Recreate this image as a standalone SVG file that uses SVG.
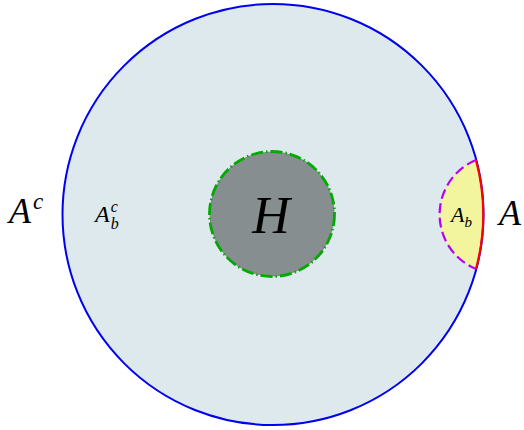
<svg xmlns="http://www.w3.org/2000/svg" width="524" height="430" viewBox="0 0 524 430">
<style>
.t{font-family:"Liberation Serif","DejaVu Serif",serif;font-style:italic;fill:#000}
</style>
<rect width="524" height="430" fill="#fff"/>
<g id="universe">
<circle cx="273" cy="214.5" r="210.5" fill="#dde9ec" stroke="none"/>
</g>
<g id="Ab">
<path d="M476,160 A59,59 0 0 0 476,269 A210.5,210.5 0 0 0 476,160 Z" fill="#f2f59d" stroke="none"/>
</g>
<g id="H">
<circle cx="272" cy="214" r="62.5" fill="#878e8f" stroke="#00aa00" stroke-width="2.8" stroke-dasharray="12 3 1.5 3"/>
<text class="t" x="271" y="233" font-size="52" text-anchor="middle">H</text>
</g>
<g id="connectors">
<circle cx="273" cy="214.5" r="210.5" fill="none" stroke="#0000ee" stroke-width="2"/>
<path d="M476,160 A210.5,210.5 0 0 1 476,269" fill="none" stroke="#ff0000" stroke-width="2.2"/>
<path d="M476,160 A59,59 0 0 0 476,269" fill="none" stroke="#bb00ee" stroke-width="2.2" stroke-dasharray="10 4.5"/>
</g>
<g id="labels">
<text class="t" x="9" y="223" font-size="36">A<tspan font-size="23" dx="2" dy="-14">c</tspan></text>
<text class="t" x="95" y="222" font-size="24">A<tspan font-size="16" dx="1" dy="-10">c</tspan><tspan font-size="16" dx="-7" dy="17">b</tspan></text>
<text class="t" x="451" y="222" font-size="22">A<tspan font-size="15" dx="0" dy="5">b</tspan></text>
<text class="t" x="499" y="225" font-size="36">A</text>
</g>
</svg>
